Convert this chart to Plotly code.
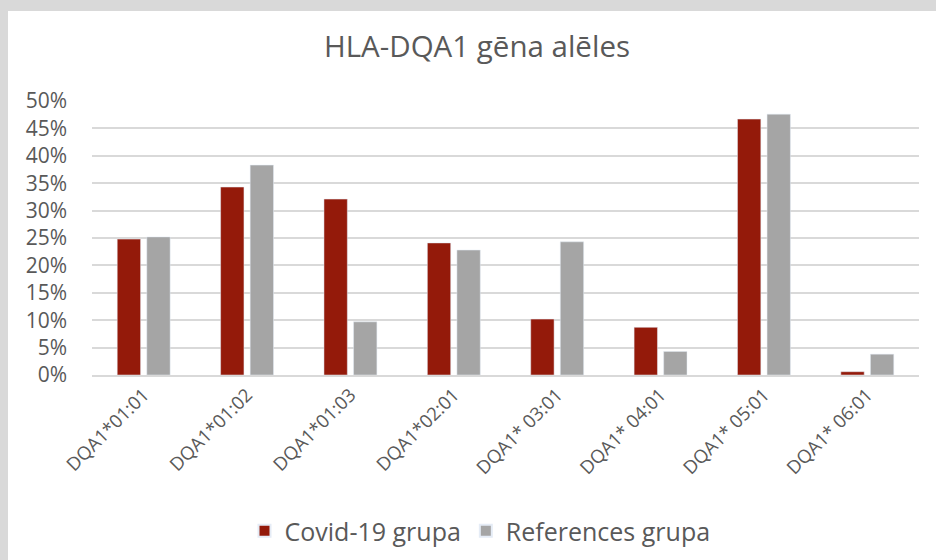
import plotly.graph_objects as go

categories = ["DQA1*01:01", "DQA1*01:02", "DQA1*01:03", "DQA1*02:01",
              "DQA1* 03:01", "DQA1* 04:01", "DQA1* 05:01", "DQA1* 06:01"]
covid = [0.248, 0.343, 0.321, 0.241, 0.102, 0.087, 0.467, 0.006]
reference = [0.252, 0.383, 0.097, 0.228, 0.243, 0.043, 0.476, 0.038]
series_names = ["Covid-19 grupa", "References grupa"]
tick_vals = [0, 0.05, 0.10, 0.15, 0.20, 0.25, 0.30, 0.35, 0.40, 0.45, 0.50]
tick_text = ["0%", "5%", "10%", "15%", "20%", "25%", "30%", "35%", "40%", "45%", "50%"]

W, H = 936, 560
L, R, T, B = 92, 17, 101, 185
FONT = "Open Sans"
TXT = "#595959"

fig = go.Figure()
fig.add_trace(go.Bar(x=categories, y=covid, name=series_names[0],
                     marker=dict(color="#941A0A"), width=0.226, offset=-0.256))
fig.add_trace(go.Bar(x=categories, y=reference, name=series_names[1],
                     marker=dict(color="#A5A5A5"), width=0.226, offset=0.03))

pw = W - L - R
ph = H - T - B
def px(x):
    return (x - L) / pw
def py(y):
    return (H - B - y) / ph

fig.update_layout(
    width=W, height=H,
    margin=dict(l=L, r=R, t=T, b=B, autoexpand=False),
    paper_bgcolor="white", plot_bgcolor="white",
    barmode="overlay",
    font=dict(family=FONT, color=TXT),
    title=dict(text="HLA-DQA1 gēna alēles", xref="container", x=477 / W,
               xanchor="center", yref="container", y=1 - 47 / H, yanchor="middle",
               font=dict(size=29.5, color=TXT, family=FONT)),
    xaxis=dict(tickangle=-45, tickfont=dict(size=18.5, color=TXT),
               showgrid=False, showline=True, linecolor="#D9D9D9", linewidth=1.5,
               ticks="", automargin=False),
    yaxis=dict(range=[0, 0.5], tickvals=tick_vals, ticktext=tick_text,
               tickfont=dict(size=21, color=TXT), showgrid=True,
               gridcolor="#D9D9D9", gridwidth=1.5, zeroline=False, ticks="",
               ticklabelstandoff=24, automargin=False),
    legend=dict(orientation="h", xref="container", x=480 / W, xanchor="center",
                yref="container", y=1 - 531 / H, yanchor="middle",
                font=dict(size=25, color=TXT), itemsizing="constant",
                bgcolor="rgba(0,0,0,0)"),
    shapes=[
        dict(type="rect", xref="paper", yref="paper",
             x0=px(0), x1=px(W), y0=py(11), y1=py(0),
             fillcolor="#D9D9D9", line=dict(width=0), layer="above"),
        dict(type="rect", xref="paper", yref="paper",
             x0=px(0), x1=px(8), y0=py(H + 20), y1=py(0),
             fillcolor="#D9D9D9", line=dict(width=0), layer="above"),
    ],
)

fig.write_html("out.html", config={"displayModeBar": False},
               post_script="document.body.style.margin='0';document.body.style.overflow='hidden';")
